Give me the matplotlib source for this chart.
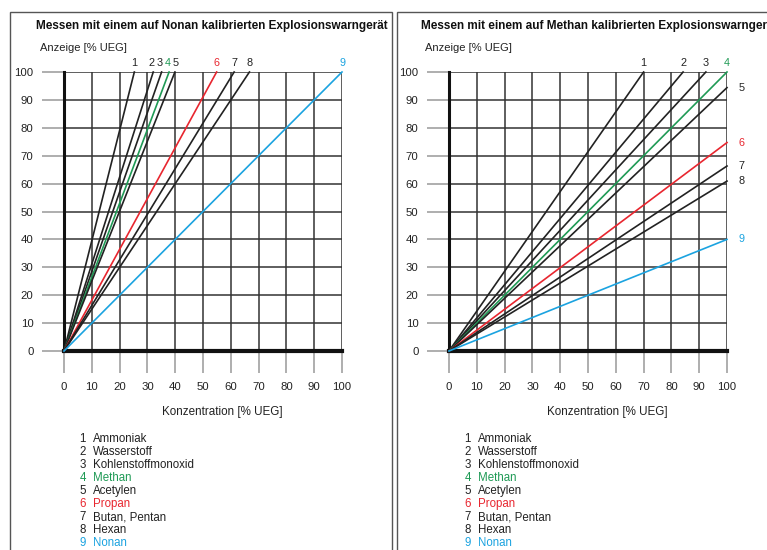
import matplotlib.pyplot as plt
from matplotlib.patches import Rectangle

plt.rcParams['font.family'] = ['Liberation Sans', 'DejaVu Sans']

# Stoffe (Legende)
nummern = ['1', '2', '3', '4', '5', '6', '7', '8', '9']
stoffe = ['Ammoniak', 'Wasserstoff', 'Kohlenstoffmonoxid', 'Methan', 'Acetylen',
          'Propan', 'Butan, Pentan', 'Hexan', 'Nonan']
farben = ['#222222', '#222222', '#222222', '#1f9a55', '#222222',
          '#e8262f', '#222222', '#222222', '#1ba3e0']

# Nonan kalibriert: Konzentration, bei der die Anzeige 100 % UEG erreicht
nonan_end_x = [25.3, 32.1, 35.1, 37.8, 39.9, 54.9, 61.2, 66.7, 100]
nonan_end_y = [100, 100, 100, 100, 100, 100, 100, 100, 100]

# Methan kalibriert: Endpunkte der Geraden
methan_end_x = [70, 84.2, 92.4, 100, 100, 100, 100, 100, 100]
methan_end_y = [100, 100, 100, 100, 94.4, 74.7, 66.3, 60.9, 40]

ticks = [0, 10, 20, 30, 40, 50, 60, 70, 80, 90, 100]

W, H = 767, 550
fig = plt.figure(figsize=(W / 100, H / 100), dpi=100)

# Rahmen
for x0, x1 in [(10, 392), (397, 790)]:
    fig.patches.append(Rectangle((x0 / W, -0.1), (x1 - x0) / W, 1 - 12 / H + 0.1,
                                 transform=fig.transFigure, fill=False,
                                 edgecolor='#555555', linewidth=1.0))

# kleine Verschiebung der gedrängten Ziffern oben (Pixel)
versatz_links = [0, -2, -2, -1, 1, 0, 0, 0, 0]


def panel(left_px, titel, end_x, end_y, seitlich, versatz):
    ax = fig.add_axes([left_px / W, 1 - 351 / H, 278 / W, 279 / H])
    ax.set_xlim(0, 100)
    ax.set_ylim(0, 100)
    ax.set_xticks(ticks)
    ax.set_yticks(ticks)
    ax.grid(True, color='#333333', linewidth=1.1)
    ax.set_axisbelow(True)
    ax.tick_params(length=16, width=1.1, color='#999999', direction='out',
                   labelsize=8.2, labelcolor='#222222', pad=6)
    for s in ['top', 'right']:
        ax.spines[s].set_visible(False)
    ax.spines['left'].set_linewidth(2.2)
    ax.spines['bottom'].set_linewidth(3)
    ax.spines['left'].set_color('#111111')
    ax.spines['bottom'].set_color('#111111')
    ax.set_xlabel('Konzentration [% UEG]', fontsize=8.4, color='#222222')
    ax.xaxis.set_label_coords(0.568, -55 / 279)

    for i in range(len(nummern)):
        ax.plot([0, end_x[i]], [0, end_y[i]], color=farben[i], linewidth=1.2,
                clip_on=False, zorder=3)
        if seitlich and end_y[i] < 100:
            ax.annotate(nummern[i], (end_x[i], end_y[i]), xytext=(8, 0),
                        textcoords='offset points', ha='left', va='center',
                        fontsize=7.8, color=farben[i], annotation_clip=False)
        else:
            ax.annotate(nummern[i], (end_x[i], end_y[i]),
                        xytext=(versatz[i] * 0.72, 3),
                        textcoords='offset points', ha='center', va='bottom',
                        fontsize=7.8, color=farben[i], annotation_clip=False)

    fig.text((left_px - 28) / W, 1 - 26 / H, titel, fontsize=8.5, fontweight='bold',
             color='#111111', va='center', ha='left')
    fig.text((left_px - 24) / W, 1 - 48 / H, 'Anzeige [% UEG]', fontsize=8,
             color='#222222', va='center', ha='left')

    for i in range(len(stoffe)):
        y = 1 - (439 + 13.0 * i) / H
        fig.text((left_px + 22) / W, y, nummern[i], fontsize=8.3, color=farben[i],
                 va='center', ha='right')
        fig.text((left_px + 29) / W, y, stoffe[i], fontsize=8.3, color=farben[i],
                 va='center', ha='left')
    return ax


panel(64, 'Messen mit einem auf Nonan kalibrierten Explosionswarngerät',
      nonan_end_x, nonan_end_y, False, versatz_links)
panel(449, 'Messen mit einem auf Methan kalibrierten Explosionswarngerät',
      methan_end_x, methan_end_y, True, [0] * 9)

fig.savefig('out.png', dpi=100)
